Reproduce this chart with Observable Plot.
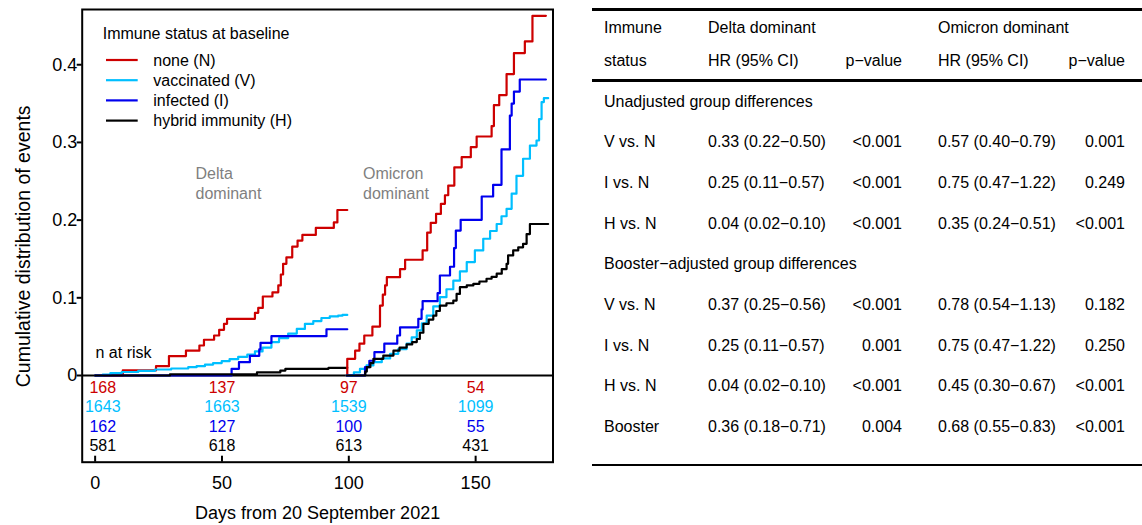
<!DOCTYPE html>
<html><head><meta charset="utf-8">
<script src="https://cdn.jsdelivr.net/npm/d3@7"></script>
<script src="https://cdn.jsdelivr.net/npm/@observablehq/plot@0.6"></script>
<style>
html,body{margin:0;padding:0;background:#fff;}
#wrap{position:relative;width:1142px;height:525px;overflow:hidden;font-family:"Liberation Sans",Arial,Helvetica,sans-serif;background:#fff;}
#chart{position:absolute;left:0;top:0;}
.cell{position:absolute;font-size:16px;line-height:20px;white-space:nowrap;color:#000;}
.rule{position:absolute;left:592px;width:560px;height:2.5px;background:#000;}
</style></head><body>
<div id="wrap"><div id="chart"></div><div id="table"></div></div>
<script>
// ---------------- data ----------------
const groupKeys = ["N", "V", "I", "H"];
const groupNames = ["none (N)", "vaccinated (V)", "infected (I)", "hybrid immunity (H)"];
const groupColors = ["#CD0000", "#00BFFF", "#0000EE", "#000000"];
const legendTitle = "Immune status at baseline";
const periodLabels = ["Delta\ndominant", "Omicron\ndominant"];

// Delta-dominant period: [day, cumulative distribution]
const deltaN = [[0,0],[10.9,0.0065],[24,0.012],[29.1,0.025],[35.8,0.032],[41.1,0.0386],[42.9,0.046],[46.9,0.0515],[48.9,0.0588],[50.8,0.0665],[52,0.073],[63,0.0807],[64.3,0.087],[66.1,0.1017],[69.9,0.107],[72.2,0.116],[73.2,0.130],[74.1,0.1437],[75.4,0.152],[77.7,0.166],[79.8,0.1737],[81.7,0.181],[87,0.190],[94.1,0.197],[95.5,0.213],[99.4,0.213]];
const deltaV = [[0,0],[3,0.001],[6,0.003],[10.5,0.0045],[17,0.006],[23.6,0.0077],[30,0.009],[36.7,0.0107],[40,0.012],[43.3,0.014],[46.5,0.016],[49.9,0.0185],[53,0.021],[56.4,0.024],[60,0.027],[63,0.031],[66,0.036],[69.5,0.043],[72.5,0.048],[76.1,0.054],[79.5,0.060],[82.7,0.0665],[86,0.070],[89.2,0.074],[92.5,0.076],[95.8,0.077],[97.5,0.078],[99.4,0.078]];
const deltaI = [[0,0],[53.8,0.0086],[56.7,0.0172],[61,0.0253],[64.7,0.0335],[65.2,0.042],[69.5,0.0506],[91.2,0.0595],[99.4,0.0595]];
const deltaH = [[0,0],[29.5,0.0015],[63.8,0.004],[73,0.0064],[75,0.0086],[92,0.0099],[99.4,0.0099]];

// Omicron-dominant period
const omicronN = [[99.2,0],[99.4,0.0215],[102.5,0.032],[104.2,0.041],[106.1,0.0515],[109.3,0.063],[112.3,0.090],[113.4,0.104],[114.3,0.116],[115,0.1265],[120.2,0.137],[122.2,0.149],[129.1,0.161],[130.9,0.184],[132.3,0.1965],[134.4,0.208],[136.3,0.221],[137.9,0.232],[139.2,0.2445],[141.6,0.268],[144.5,0.281],[148.1,0.294],[150.4,0.3076],[156.3,0.321],[157.2,0.348],[159.3,0.361],[162.2,0.388],[165.1,0.415],[169.4,0.430],[172.4,0.463],[177.7,0.463]];
const omicronV = [[99.2,0],[102,0.004],[104.4,0.0086],[107,0.013],[109.7,0.0172],[113,0.022],[116.3,0.0279],[119.5,0.034],[122.8,0.041],[124.8,0.049],[126.8,0.058],[128.8,0.067],[130.7,0.077],[133.3,0.089],[135.9,0.1008],[138.5,0.111],[141.2,0.122],[143.8,0.134],[146.5,0.146],[149.7,0.161],[153,0.176],[155.7,0.186],[158.3,0.195],[160.2,0.205],[162.2,0.2145],[164.2,0.234],[166.1,0.257],[168.7,0.279],[171.4,0.296],[174,0.3025],[175,0.330],[176,0.352],[176.9,0.357],[178.6,0.357]];
const omicronI = [[99.2,0],[106.4,0.0107],[108.1,0.019],[110.1,0.030],[114,0.041],[119.1,0.0515],[120.2,0.062],[127.4,0.073],[128.7,0.085],[129.1,0.0957],[135,0.106],[135.9,0.1287],[139.9,0.140],[141.5,0.164],[142.2,0.1866],[144.1,0.2004],[152.4,0.2304],[156.9,0.2454],[160.2,0.291],[163.5,0.3346],[164.2,0.350],[165.1,0.3655],[167.4,0.381],[177.7,0.381]];
const omicronH = [[99.2,0],[106.5,0.005],[107.1,0.0107],[108.5,0.016],[109.7,0.0215],[113.6,0.0257],[117.6,0.032],[120,0.036],[122.8,0.040],[125,0.043],[126.8,0.047],[128,0.055],[129.4,0.0665],[131.5,0.072],[133.3,0.077],[134.5,0.083],[135.9,0.090],[138.5,0.093],[141.2,0.0965],[142.5,0.105],[143.8,0.1137],[146.5,0.116],[149.1,0.118],[151.5,0.121],[154.3,0.1245],[156.3,0.127],[158.3,0.131],[160.3,0.137],[162.2,0.1437],[162.8,0.1545],[164.8,0.161],[166.8,0.165],[168.7,0.1695],[170.1,0.182],[171.4,0.195],[178.6,0.195]];

// numbers at risk
const atRiskDays = [3, 50, 100, 150];
const atRiskN = [168, 137, 97, 54];
const atRiskV = [1643, 1663, 1539, 1099];
const atRiskI = [162, 127, 100, 55];
const atRiskH = [581, 618, 613, 431];
const atRiskLabel = "n at risk";

const xTicks = [0, 50, 100, 150];
const yTicks = [0, 0.1, 0.2, 0.3, 0.4];
const xLabel = "Days from 20 September 2021";
const yLabel = "Cumulative distribution of events";

// table
const headerRow1 = ["Immune", "Delta dominant", "Omicron dominant"];
const headerRow2 = ["status", "HR (95% CI)", "p\u2212value", "HR (95% CI)", "p\u2212value"];
const sectionTitles = ["Unadjusted group differences", "Booster\u2212adjusted group differences"];
const unadjLabels = ["V vs. N", "I vs. N", "H vs. N"];
const unadjDeltaHR = ["0.33 (0.22\u22120.50)", "0.25 (0.11\u22120.57)", "0.04 (0.02\u22120.10)"];
const unadjDeltaP = ["<0.001", "<0.001", "<0.001"];
const unadjOmiHR = ["0.57 (0.40\u22120.79)", "0.75 (0.47\u22121.22)", "0.35 (0.24\u22120.51)"];
const unadjOmiP = ["0.001", "0.249", "<0.001"];
const adjLabels = ["V vs. N", "I vs. N", "H vs. N", "Booster"];
const adjDeltaHR = ["0.37 (0.25\u22120.56)", "0.25 (0.11\u22120.57)", "0.04 (0.02\u22120.10)", "0.36 (0.18\u22120.71)"];
const adjDeltaP = ["<0.001", "0.001", "<0.001", "0.004"];
const adjOmiHR = ["0.78 (0.54\u22121.13)", "0.75 (0.47\u22121.22)", "0.45 (0.30\u22120.67)", "0.68 (0.55\u22120.83)"];
const adjOmiP = ["0.182", "0.250", "<0.001", "<0.001"];

// ---------------- chart ----------------
const curves = [];
const deltaSets = [deltaN, deltaV, deltaI, deltaH];
const omiSets = [omicronN, omicronV, omicronI, omicronH];
deltaSets.forEach((s, i) => s.forEach(([d, v]) => curves.push({series: "delta-" + groupKeys[i], group: groupKeys[i], day: d, value: v})));
omiSets.forEach((s, i) => s.forEach(([d, v]) => curves.push({series: "omicron-" + groupKeys[i], group: groupKeys[i], day: d, value: v})));

const W = 570, H = 525, mT = 9, mB = 63.3, mL = 81.7, mR = 17.5;
const frameH = H - mT - mB;
const font = "'Liberation Sans', Arial, Helvetica, sans-serif";

function legendMark(index, scales, values, dims) {
  const g = d3.create("svg:g").attr("font-size", 16).attr("font-family", font).attr("text-anchor", "start");
  const x0 = dims.marginLeft, y0 = dims.marginTop;
  g.append("text").attr("x", x0 + 21).attr("y", y0 + 24.3).attr("dy", "0.35em").attr("fill", "#000").text(legendTitle);
  groupNames.forEach((name, i) => {
    const y = y0 + 51 + i * 20.2;
    g.append("line").attr("x1", x0 + 24.3).attr("x2", x0 + 56).attr("y1", y).attr("y2", y)
      .attr("stroke", groupColors[i]).attr("stroke-width", 2.2);
    g.append("text").attr("x", x0 + 71.6).attr("y", y).attr("dy", "0.35em").attr("fill", "#000").text(name);
  });
  return g.node();
}

function yTitleMark(index, scales, values, dims) {
  const cy = dims.marginTop + (dims.height - dims.marginTop - dims.marginBottom) / 2 + 11;
  const g = d3.create("svg:g").attr("font-size", 19.5).attr("font-family", font).attr("text-anchor", "middle");
  g.append("text").attr("transform", `translate(${dims.marginLeft - 59},${cy}) rotate(-90)`)
    .attr("dy", "0.35em").attr("fill", "#000").text(yLabel);
  return g.node();
}

const riskSets = [atRiskN, atRiskV, atRiskI, atRiskH];
const riskDy = [-74.4, -55, -35.7, -16];

const chart = Plot.plot({
  width: W, height: H,
  marginTop: mT, marginBottom: mB, marginLeft: mL, marginRight: mR,
  x: {domain: [-5.1, 180.5]},
  y: {domain: [-0.1116, 0.4711]},
  color: {domain: groupKeys, range: groupColors},
  style: {fontFamily: font, fontSize: "16px", color: "#000", background: "#fff", overflow: "visible"},
  marks: [
    Plot.ruleY([0], {stroke: "#000", strokeWidth: 2}),
    Plot.line(curves, {x: "day", y: "value", z: "series", stroke: "group", curve: "step-after", strokeWidth: 2.2}),
    Plot.frame({stroke: "#000", strokeWidth: 2}),
    Plot.axisY({ticks: yTicks, tickFormat: d => d === 0 ? "0" : d3.format(".1f")(d), tickSize: 5, tickPadding: 0, fontSize: 18, strokeWidth: 2, label: null}),
    Plot.axisX({ticks: xTicks, tickSize: 0, tickPadding: 14, fontSize: 18,
      label: xLabel, labelAnchor: "center", labelOffset: 57, labelArrow: "none"}),
    Plot.tickX(xTicks, {x: d => d, insetTop: frameH - 6, strokeWidth: 2, stroke: "#000"}),
    ...riskSets.map((s, i) => Plot.text(s, {x: (d, j) => atRiskDays[j], text: d => String(d), fill: groupColors[i], frameAnchor: "bottom", lineAnchor: "middle", dy: riskDy[i], fontSize: 16})),
    Plot.text([atRiskLabel], {frameAnchor: "bottom-left", lineAnchor: "middle", dx: 13.3, dy: -109, textAnchor: "start", fontSize: 16, fill: "#000"}),
    Plot.text([periodLabels[0]], {frameAnchor: "top-left", lineAnchor: "middle", dx: 113.3, dy: 173, textAnchor: "start", fill: "#7f7f7f", fontSize: 16, lineHeight: 1.22}),
    Plot.text([periodLabels[1]], {frameAnchor: "top-left", lineAnchor: "middle", dx: 280.8, dy: 173, textAnchor: "start", fill: "#7f7f7f", fontSize: 16, lineHeight: 1.22}),
    legendMark,
    yTitleMark
  ]
});
document.getElementById("chart").appendChild(chart);

// ---------------- table ----------------
const table = document.getElementById("table");
function cell(text, y, opts) {
  const d = document.createElement("div");
  d.className = "cell";
  d.textContent = text;
  d.style.top = (y - 10) + "px";
  if (opts.left != null) d.style.left = opts.left + "px";
  if (opts.right != null) { d.style.right = (1142 - opts.right) + "px"; d.style.textAlign = "right"; }
  table.appendChild(d);
}
function rule(y) {
  const d = document.createElement("div");
  d.className = "rule";
  d.style.top = (y - 1.25) + "px";
  table.appendChild(d);
}
const colLabel = 604, colDHR = 708, colDP = 902, colOHR = 938, colOP = 1125;
rule(9.3); rule(80.5); rule(465);
cell(headerRow1[0], 28.3, {left: colLabel});
cell(headerRow1[1], 28.3, {left: colDHR});
cell(headerRow1[2], 28.3, {left: colOHR});
cell(headerRow2[0], 61, {left: colLabel});
cell(headerRow2[1], 61, {left: colDHR});
cell(headerRow2[2], 61, {right: colDP});
cell(headerRow2[3], 61, {left: colOHR});
cell(headerRow2[4], 61, {right: colOP});
const rowStart = 101.5, rowStep = 40.7;
let r = 0;
cell(sectionTitles[0], rowStart + rowStep * r++, {left: colLabel});
unadjLabels.forEach((lab, i) => {
  const y = rowStart + rowStep * r++;
  cell(lab, y, {left: colLabel});
  cell(unadjDeltaHR[i], y, {left: colDHR});
  cell(unadjDeltaP[i], y, {right: colDP});
  cell(unadjOmiHR[i], y, {left: colOHR});
  cell(unadjOmiP[i], y, {right: colOP});
});
cell(sectionTitles[1], rowStart + rowStep * r++, {left: colLabel});
adjLabels.forEach((lab, i) => {
  const y = rowStart + rowStep * r++;
  cell(lab, y, {left: colLabel});
  cell(adjDeltaHR[i], y, {left: colDHR});
  cell(adjDeltaP[i], y, {right: colDP});
  cell(adjOmiHR[i], y, {left: colOHR});
  cell(adjOmiP[i], y, {right: colOP});
});
</script>
</body></html>
